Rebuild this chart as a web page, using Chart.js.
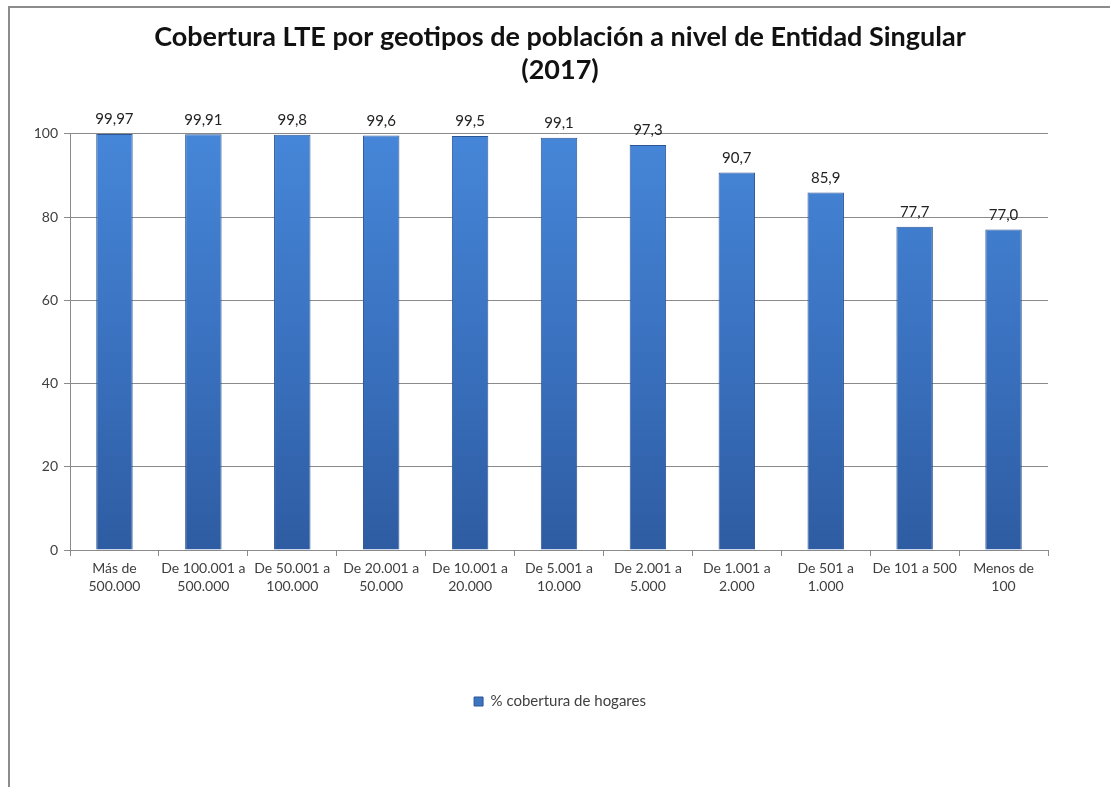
<!DOCTYPE html>
<html>
<head>
<meta charset="utf-8">
<script src="https://cdn.jsdelivr.net/npm/chart.js@4"></script>
<style>
  html, body { margin: 0; padding: 0; background: #fff; }
  #frame {
    position: absolute; left: 8px; top: 6px;
    width: 1102px; height: 781px;
    border-top: 2px solid #8c8c8c; border-left: 2px solid #8c8c8c;
    box-sizing: border-box;
  }
  #wrap { position: absolute; left: 0; top: 0; width: 1100px; height: 779px; }
</style>
</head>
<body>
<div id="frame"><div id="wrap"><canvas id="c"></canvas></div></div>
<script>
// Population size bands (geotipos)
const categories = [
  ["Más de", "500.000"],
  ["De 100.001 a", "500.000"],
  ["De 50.001 a", "100.000"],
  ["De 20.001 a", "50.000"],
  ["De 10.001 a", "20.000"],
  ["De 5.001 a", "10.000"],
  ["De 2.001 a", "5.000"],
  ["De 1.001 a", "2.000"],
  ["De 501 a", "1.000"],
  "De 101 a 500",
  ["Menos de", "100"]
];
// % of households with LTE coverage
const coverage = [99.97, 99.91, 99.8, 99.6, 99.5, 99.1, 97.3, 90.7, 85.9, 77.7, 77.0];
// decimals shown in each value label
const decimals = [2, 2, 1, 1, 1, 1, 1, 1, 1, 1, 1];
const yTicks = [0, 20, 40, 60, 80, 100];
const seriesName = "% cobertura de hogares";

const FONT = "Lato, 'Open Sans', sans-serif";
const TEXT = "#404040";
const GRID = "#8a8a8a";

function fmt(v, d) { return v.toFixed(d).replace('.', ','); }

function barFill(ctx) {
  const chart = ctx.chart;
  const area = chart.chartArea;
  if (!area) return '#3c78c8';
  const g = chart.ctx.createLinearGradient(0, area.top, 0, area.bottom);
  g.addColorStop(0, '#4686d8');
  g.addColorStop(0.5, '#3a72c0');
  g.addColorStop(1, '#2e5ca2');
  return g;
}

const valueLabels = {
  id: 'valueLabels',
  afterDatasetsDraw(chart) {
    const c = chart.ctx;
    const meta = chart.getDatasetMeta(0);
    c.save();
    c.font = "15px " + FONT;
    c.fillStyle = "#222";
    c.textAlign = 'center';
    c.textBaseline = 'bottom';
    meta.data.forEach((bar, i) => {
      c.fillText(fmt(coverage[i], decimals[i]), bar.x, bar.y - 7);
    });
    c.restore();
  }
};

new Chart(document.getElementById('c'), {
  type: 'bar',
  data: {
    labels: categories,
    datasets: [{
      label: seriesName,
      data: coverage,
      backgroundColor: barFill,
      borderColor: '#2c5594',
      borderWidth: 1,
      categoryPercentage: 1,
      barPercentage: 0.41
    }]
  },
  options: {
    responsive: true,
    maintainAspectRatio: false,
    animation: false,
    layout: { padding: { left: 0, right: 0, top: 0, bottom: 68 } },
    plugins: {
      title: {
        display: true,
        text: ["Cobertura LTE por geotipos de población a nivel de Entidad Singular", "(2017)"],
        color: "#111",
        font: { family: FONT, size: 27, weight: 'bold', lineHeight: 1.22 },
        padding: { top: 13, bottom: 47 }
      },
      legend: {
        display: true,
        position: 'bottom',
        labels: {
          color: TEXT,
          font: { family: FONT, size: 15 },
          boxWidth: 9, boxHeight: 9,
          padding: 10,
          generateLabels(chart) {
            return [{
              text: seriesName,
              fillStyle: '#3c74c2',
              strokeStyle: '#2c5594',
              lineWidth: 1,
              datasetIndex: 0,
              fontColor: TEXT
            }];
          }
        }
      },
      tooltip: { enabled: false }
    },
    scales: {
      x: {
        grid: { display: true, drawOnChartArea: false, drawTicks: true, tickLength: 6, color: GRID, offset: true },
        border: { display: true, color: GRID },
        ticks: {
          color: TEXT, font: { family: FONT, size: 14, lineHeight: 1.3 },
          maxRotation: 0, minRotation: 0, autoSkip: false, padding: 3
        },
        afterFit(axis) { axis.height = 134; }
      },
      y: {
        min: 0, max: 100,
        afterBuildTicks(axis) { axis.ticks = yTicks.map(v => ({ value: v })); },
        grid: { color: GRID, tickLength: 6 },
        border: { display: true, color: GRID },
        ticks: { color: TEXT, font: { family: FONT, size: 14 }, padding: 6 },
        afterFit(axis) { axis.width = 60; }
      },
      // empty right-hand spacer so the plot stops short of the frame edge
      yRight: {
        position: 'right',
        display: true,
        grid: { display: false },
        border: { display: false },
        ticks: { display: false },
        afterFit(axis) { axis.width = 62; }
      }
    }
  },
  plugins: [valueLabels]
});
</script>
</body>
</html>
